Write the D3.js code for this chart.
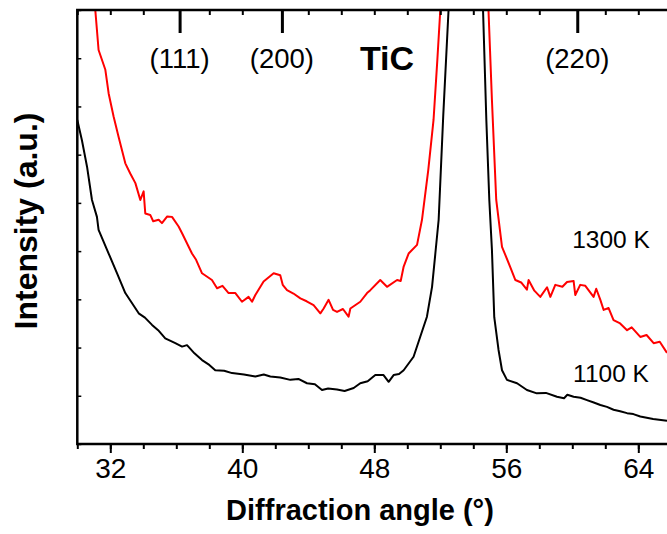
<!DOCTYPE html>
<html>
<head>
<meta charset="utf-8">
<script src="https://cdn.jsdelivr.net/npm/d3@7"></script>
<style>
  body { margin: 0; background: #fff; }
  svg { display: block; font-family: Arial, "Liberation Sans", sans-serif; }
</style>
</head>
<body>
<svg id="xrd"></svg>
<script>
// Diffraction data (angle in degrees, intensity in arbitrary units)
const angle1100 = [30.0, 30.28, 30.59, 30.89, 31.19, 31.29, 31.9, 32.41, 32.91, 33.2, 33.72, 34.1, 34.53, 34.9, 35.33, 35.94, 36.35, 36.65, 37.1, 37.56, 38.0, 38.36, 38.9, 39.38, 40.1, 40.79, 41.3, 41.7, 42.3, 42.91, 43.4, 43.92, 44.4, 44.83, 45.2, 45.74, 46.2, 46.75, 47.15, 47.6, 48.06, 48.56, 48.87, 49.17, 49.5, 49.78, 50.38, 50.79, 51.19, 51.5, 51.7, 51.9, 52.18, 52.5, 53.5, 54.59, 54.79, 54.97, 55.13, 55.27, 55.53, 55.74, 56.04, 56.65, 57.25, 57.85, 58.4, 59.07, 59.5, 59.7, 60.08, 60.5, 60.89, 61.3, 61.7, 62.1, 62.5, 62.9, 63.32, 63.7, 64.12, 64.9, 65.74];
const int1100 = [6.72, 6.30, 5.75, 5.06, 4.71, 4.44, 3.95, 3.54, 3.13, 2.98, 2.71, 2.62, 2.47, 2.36, 2.19, 2.09, 2.02, 2.05, 1.88, 1.74, 1.64, 1.53, 1.52, 1.47, 1.44, 1.40, 1.44, 1.40, 1.38, 1.33, 1.35, 1.26, 1.24, 1.12, 1.15, 1.13, 1.10, 1.16, 1.26, 1.30, 1.43, 1.43, 1.29, 1.43, 1.45, 1.53, 1.81, 2.23, 2.64, 3.26, 3.95, 4.65, 6.82, 9.0, 30, 9.0, 6.72, 5.06, 4.02, 2.63, 1.95, 1.53, 1.33, 1.26, 1.12, 1.05, 1.06, 0.98, 0.95, 1.02, 0.98, 0.96, 0.91, 0.86, 0.81, 0.77, 0.71, 0.68, 0.64, 0.62, 0.57, 0.52, 0.48];

const angle1300 = [31.09, 31.29, 31.7, 31.9, 32.2, 32.5, 32.91, 33.21, 33.52, 33.82, 34.02, 34.12, 34.42, 34.6, 34.93, 35.13, 35.45, 35.74, 36.14, 36.35, 36.95, 37.2, 37.56, 38.16, 38.47, 38.8, 39.17, 39.58, 39.98, 40.38, 40.59, 40.79, 41.29, 41.9, 42.3, 42.45, 42.71, 43.1, 43.52, 43.9, 44.32, 44.73, 44.93, 45.23, 45.5, 45.74, 46.1, 46.44, 46.55, 47.15, 47.56, 47.76, 48.36, 48.77, 49.38, 49.6, 49.78, 50.08, 50.59, 50.89, 51.27, 51.59, 51.82, 52.0, 53.5, 54.92, 55.13, 55.39, 55.74, 56.24, 56.55, 56.9, 57.25, 57.35, 57.7, 58.06, 58.47, 58.67, 58.97, 59.4, 59.68, 60.08, 60.18, 60.48, 60.79, 61.29, 61.45, 61.7, 61.9, 62.2, 62.5, 62.9, 63.32, 63.6, 64.12, 64.5, 64.93, 65.3, 65.74];
const int1300 = [9.0, 8.17, 7.76, 7.27, 6.79, 6.37, 5.82, 5.61, 5.41, 5.06, 5.24, 4.78, 4.75, 4.62, 4.65, 4.58, 4.72, 4.71, 4.51, 4.37, 3.95, 3.82, 3.54, 3.40, 3.23, 3.28, 3.13, 3.13, 2.95, 3.05, 2.95, 3.09, 3.37, 3.54, 3.50, 3.30, 3.19, 3.12, 3.02, 2.96, 2.88, 2.71, 2.81, 2.99, 2.78, 2.74, 2.80, 2.64, 2.81, 2.95, 3.13, 3.19, 3.40, 3.26, 3.40, 3.38, 3.68, 3.95, 4.13, 4.65, 5.68, 6.72, 7.96, 9.0, 40, 9.0, 7.13, 5.06, 4.09, 3.67, 3.40, 3.35, 3.20, 3.40, 3.18, 3.05, 3.25, 3.05, 3.30, 3.26, 3.36, 3.38, 3.09, 3.30, 3.28, 3.05, 3.22, 2.99, 2.78, 2.82, 2.57, 2.50, 2.36, 2.42, 2.22, 2.26, 2.09, 2.12, 1.89];

// TiC reflections marked on the top axis
const ticPeaks = [36.2, 42.4, 60.3];
const ticLabels = ["(111)", "(200)", "(220)"];

const xMajor = [32, 40, 48, 56, 64];
const xMinor = d3.range(30, 67, 2);

const width = 667, height = 534;
const margin = { top: 10, left: 77.3, bottom: 444 };

const svg = d3.select("#xrd").attr("width", width).attr("height", height);

const x = d3.scaleLinear().domain([30, 66]).range([margin.left, margin.left + 36 * 16.5]);
const y = d3.scaleLinear().domain([0, 9]).range([margin.bottom, margin.top]);

svg.append("defs").append("clipPath").attr("id", "plot-clip")
   .append("rect")
   .attr("x", x(30)).attr("y", y(9))
   .attr("width", x(66) - x(30)).attr("height", y(0) - y(9));

// Curves
const line = d3.line().x(d => x(d[0])).y(d => y(d[1]));
const series = [
  { a: angle1100, v: int1100, color: "#000" },
  { a: angle1300, v: int1300, color: "#ff0000" }
];
const curves = svg.append("g").attr("clip-path", "url(#plot-clip)");
series.forEach(s => {
  curves.append("path")
     .datum(s.a.map((a, i) => [a, s.v[i]]))
     .attr("fill", "none")
     .attr("stroke", s.color)
     .attr("stroke-width", 2)
     .attr("stroke-linejoin", "round")
     .attr("d", line);
});

// Bottom axis: major ticks with labels, minor every 2 degrees
svg.append("g")
   .attr("transform", `translate(0,${y(0)})`)
   .call(d3.axisBottom(x).tickValues(xMinor).tickSize(5).tickFormat(""))
   .call(g => g.select(".domain").remove())
   .selectAll("line").attr("stroke-width", 2);

const xAxis = svg.append("g")
   .attr("transform", `translate(0,${y(0)})`)
   .call(d3.axisBottom(x).tickValues(xMajor).tickSize(9).tickPadding(5).tickFormat(d3.format("d")));
xAxis.select(".domain").remove();
xAxis.selectAll("line").attr("stroke-width", 2);
xAxis.selectAll("text").attr("font-size", 28).attr("fill", "#000")
     .attr("font-family", "Arial, 'Liberation Sans', sans-serif");

// Left axis: inward ticks, no labels
const yAxis = svg.append("g")
   .attr("transform", `translate(${margin.left},0)`)
   .call(d3.axisLeft(y).ticks(9).tickSize(-4).tickFormat(""));
yAxis.select(".domain").remove();
yAxis.selectAll("line").attr("stroke-width", 1.5);

// Top axis: inward minor ticks and TiC reflection markers
const topMinor = xMinor.filter(v => !ticPeaks.some(p => Math.abs(p - v) < 0.5));
const topAxis = svg.append("g")
   .attr("transform", `translate(0,${y(9)})`)
   .call(d3.axisTop(x).tickValues(topMinor).tickSize(-5).tickFormat(""));
topAxis.select(".domain").remove();
topAxis.selectAll("line").attr("stroke-width", 2);

const peakTicks = svg.append("g")
   .attr("transform", `translate(0,${y(9)})`)
   .call(d3.axisTop(x).tickValues(ticPeaks).tickSize(-23).tickFormat(""));
peakTicks.select(".domain").remove();
peakTicks.selectAll("line").attr("stroke-width", 3);

svg.append("g").selectAll("text")
   .data(ticPeaks)
   .join("text")
   .attr("x", d => x(d))
   .attr("y", 68)
   .attr("text-anchor", "middle")
   .attr("font-size", 27.5)
   .text((d, i) => ticLabels[i]);

// Frame lines (left, bottom, top)
svg.append("path")
   .attr("d", `M${x(66)},${y(9)}H${x(30)}V${y(0)}H${x(66)}`)
   .attr("fill", "none")
   .attr("stroke", "#000")
   .attr("stroke-width", 2.5);

// Annotations
svg.append("text")
   .attr("x", 387).attr("y", 70)
   .attr("text-anchor", "middle")
   .attr("font-size", 34).attr("font-weight", "bold")
   .text("TiC");

svg.append("text")
   .attr("x", 611).attr("y", 248)
   .attr("text-anchor", "middle")
   .attr("font-size", 24.5)
   .text("1300 K");

svg.append("text")
   .attr("x", 611).attr("y", 382)
   .attr("text-anchor", "middle")
   .attr("font-size", 24.5)
   .text("1100 K");

// Axis titles
svg.append("text")
   .attr("x", 360).attr("y", 520)
   .attr("text-anchor", "middle")
   .attr("font-size", 29).attr("font-weight", "bold")
   .text("Diffraction angle (°)");

svg.append("text")
   .attr("transform", "translate(37,221) rotate(-90)")
   .attr("text-anchor", "middle")
   .attr("font-size", 32).attr("font-weight", "bold")
   .text("Intensity (a.u.)");
</script>
</body>
</html>
